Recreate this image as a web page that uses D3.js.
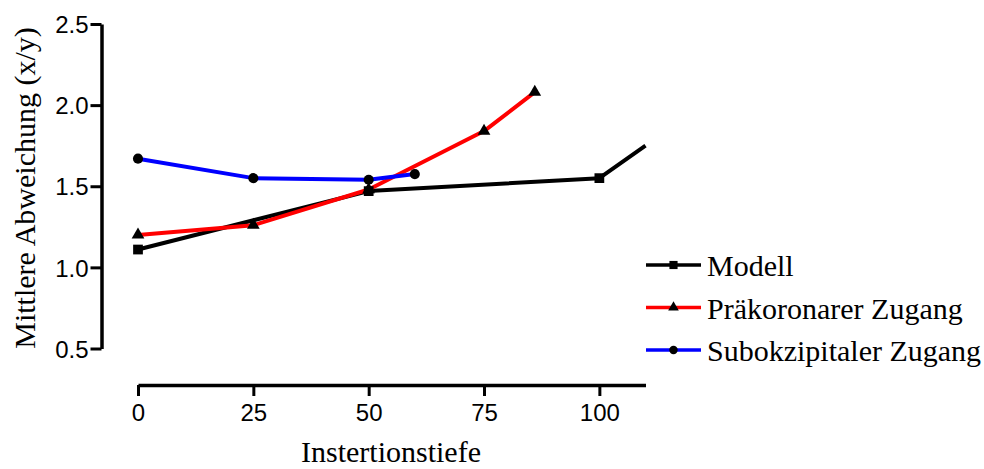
<!DOCTYPE html>
<html>
<head>
<meta charset="utf-8">
<script src="https://cdn.jsdelivr.net/npm/d3@7"></script>
<style>
  body { margin: 0; background: #fff; }
  svg { display: block; }
</style>
</head>
<body>
<script>
// depth values and mean deviation per approach
const modellDepth = [0, 50, 100, 110];
const modellValue = [1.11, 1.47, 1.55, 1.75];
const praeDepth = [0, 25, 50, 75, 86];
const praeValue = [1.20, 1.26, 1.48, 1.84, 2.08];
const subDepth = [0, 25, 50, 60];
const subValue = [1.67, 1.55, 1.54, 1.575];

const xTicks = [0, 25, 50, 75, 100];
const yTicks = [0.5, 1.0, 1.5, 2.0, 2.5];

const seriesNames = ["Modell", "Präkoronarer Zugang", "Subokzipitaler Zugang"];
const seriesColors = ["#000000", "#ff0000", "#0000ff"];
const seriesSymbols = [d3.symbolSquare, d3.symbolTriangle, d3.symbolCircle];

const series = [
    { name: seriesNames[0], color: seriesColors[0], symbol: seriesSymbols[0],
      points: modellDepth.map((d, i) => ({ x: d, y: modellValue[i] })) },
    { name: seriesNames[1], color: seriesColors[1], symbol: seriesSymbols[1],
      points: praeDepth.map((d, i) => ({ x: d, y: praeValue[i] })) },
    { name: seriesNames[2], color: seriesColors[2], symbol: seriesSymbols[2],
      points: subDepth.map((d, i) => ({ x: d, y: subValue[i] })) }
];

const width = 984, height = 469;
const svg = d3.select("body").append("svg")
    .attr("width", width)
    .attr("height", height);

const x = d3.scaleLinear().domain([0, 110]).range([138, 645.5]);
const y = d3.scaleLinear().domain([0.5, 2.5]).range([348.5, 24]);

// y axis (offset to the left of the data area)
const yAxis = svg.append("g")
    .attr("transform", "translate(101.5,0)")
    .call(d3.axisLeft(y).tickValues(yTicks).tickFormat(d3.format(".1f")).tickSize(11).tickSizeOuter(0));

// x axis below the data area
const xAxis = svg.append("g")
    .attr("transform", "translate(0,385)")
    .call(d3.axisBottom(x).tickValues(xTicks).tickSize(11).tickSizeOuter(0));

[xAxis, yAxis].forEach(g => {
    g.select(".domain").attr("stroke", "#000").attr("stroke-width", 3.5);
    g.selectAll(".tick line").attr("stroke", "#000").attr("stroke-width", 3);
    g.selectAll(".tick text")
        .attr("font-family", "'Liberation Sans', Arial, sans-serif")
        .attr("font-size", 24)
        .attr("fill", "#000");
});
yAxis.selectAll(".tick text").attr("x", -13).attr("dy", "0.36em");
xAxis.selectAll(".tick text").attr("y", 19);

// axis titles
svg.append("text")
    .attr("x", 391)
    .attr("y", 462)
    .attr("text-anchor", "middle")
    .attr("font-family", "'Liberation Serif', 'Times New Roman', serif")
    .attr("font-size", 30)
    .text("Instertionstiefe");

svg.append("text")
    .attr("transform", "translate(35,188) rotate(-90)")
    .attr("text-anchor", "middle")
    .attr("font-family", "'Liberation Serif', 'Times New Roman', serif")
    .attr("font-size", 30)
    .text("Mittlere Abweichung (x/y)");

const line = d3.line().x(d => x(d.x)).y(d => y(d.y));

const symbolSize = s => s === d3.symbolTriangle ? 70 : (s === d3.symbolSquare ? 95 : 80);

series.forEach(s => {
    svg.append("path")
        .datum(s.points)
        .attr("fill", "none")
        .attr("stroke", s.color)
        .attr("stroke-width", 4)
        .attr("stroke-linejoin", "round")
        .attr("d", line);
});

series.forEach(s => {
    svg.selectAll(null)
        .data(s.points.filter(p => p.x < x.domain()[1]))
        .enter().append("path")
        .attr("transform", d => `translate(${x(d.x)},${y(d.y)})`)
        .attr("d", d3.symbol(s.symbol, symbolSize(s.symbol)))
        .attr("fill", "#000");
});

// legend
const legend = svg.append("g").attr("transform", "translate(646,0)");
const legendY = [265, 307.5, 350];
series.forEach((s, i) => {
    const g = legend.append("g").attr("transform", `translate(0,${legendY[i]})`);
    g.append("line")
        .attr("x1", 0).attr("x2", 55)
        .attr("stroke", s.color)
        .attr("stroke-width", 3.5);
    g.append("path")
        .attr("transform", "translate(27.5,0)")
        .attr("d", d3.symbol(s.symbol, symbolSize(s.symbol) * 0.7))
        .attr("fill", "#000");
    g.append("text")
        .attr("x", 61)
        .attr("y", 11)
        .attr("font-family", "'Liberation Serif', 'Times New Roman', serif")
        .attr("font-size", 30)
        .text(s.name);
});
</script>
</body>
</html>
